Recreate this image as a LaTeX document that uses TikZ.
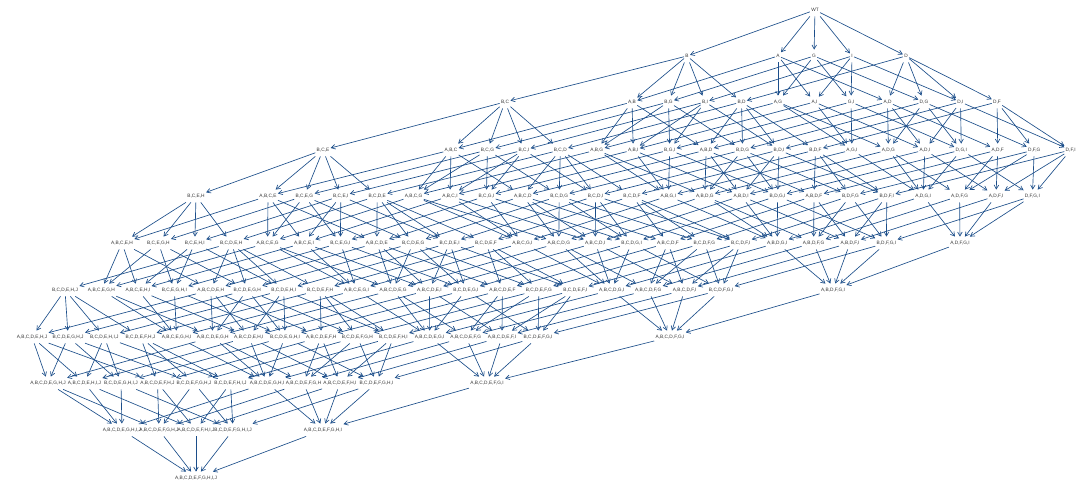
\documentclass[tikz,border=0pt]{standalone}
\usepackage{fontspec}
\setmainfont{Liberation Sans}
\usetikzlibrary{arrows.meta}
\definecolor{edgeblue}{RGB}{28,78,138}
\definecolor{txtgray}{RGB}{55,55,55}
\ExplSyntaxOn
\bool_new:N \l_my_sub_bool
\seq_new:N \l_my_lbl_seq
\cs_new_protected:Npn \my_commas:n #1
  {
    \seq_clear:N \l_my_lbl_seq
    \tl_map_inline:nn {#1} { \seq_put_right:Nn \l_my_lbl_seq {##1} }
    \seq_use:Nn \l_my_lbl_seq {,}
  }
\cs_generate_variant:Nn \my_commas:n {e}
\cs_new_protected:Npn \my_check:nn #1 #2
  {
    \bool_set_true:N \l_my_sub_bool
    \tl_map_inline:nn {#1}
      { \tl_if_in:nnF {#2} {##1} { \bool_set_false:N \l_my_sub_bool } }
  }
\cs_new_protected:Npn \my_pair:nn #1 #2
  {
    \my_check:nn {#1} {#2}
    \bool_if:NT \l_my_sub_bool { \MyEdge {#1} {#2} }
  }
\cs_new_protected:Npn \my_rows:nn #1 #2
  {
    \clist_map_inline:nn {#1}
      {
        \clist_map_inline:nn {#2} { \my_pair:nn {##1} {####1} }
      }
  }
\cs_generate_variant:Nn \my_rows:nn {oo}
\NewDocumentCommand \Lbl {m} { \my_commas:e {#1} }
\NewDocumentCommand \RowEdges {mm} { \my_rows:oo {#1} {#2} }
\ExplSyntaxOff
\def\RowI{B,A,G,I,D}
\def\RunII{AB,BG,BI,BD,AG,AI,GI,AD,DG,DI,DF}
\edef\RowII{BC,\RunII}
\def\RunIII{ABC,BCG,BCI,BCD,ABG,ABI,BGI,ABD,BDG,BDI,BDF,AGI,ADG,ADI,DGI,ADF,DFG,DFI}
\edef\RowIII{BCE,\RunIII}
\def\RunIV{ABCE,BCEG,BCEI,BCDE,ABCG,ABCI,BCGI,ABCD,BCDG,BCDI,BCDF,ABGI,ABDG,ABDI,BDGI,ABDF,BDFG,BDFI,ADGI,ADFG,ADFI,DFGI}
\edef\RowIV{BCEH,\RunIV}
\def\RunV{ABCEH,BCEGH,BCEHI,BCDEH,ABCEG,ABCEI,BCEGI,ABCDE,BCDEG,BCDEI,BCDEF,ABCGI,ABCDG,ABCDI,BCDGI,ABCDF,BCDFG,BCDFI,ABDGI,ABDFG,ABDFI,BDFGI}
\edef\RowV{\RunV,ADFGI}
\def\RunVI{BCDEHJ,ABCEGH,ABCEHI,BCEGHI,ABCDEH,BCDEGH,BCDEHI,BCDEFH,ABCEGI,ABCDEG,ABCDEI,BCDEGI,ABCDEF,BCDEFG,BCDEFI,ABCDGI,ABCDFG,ABCDFI,BCDFGI}
\edef\RowVI{\RunVI,ABDFGI}
\def\RunVII{ABCDEHJ,BCDEGHJ,BCDEHIJ,BCDEFHJ,ABCEGHI,ABCDEGH,ABCDEHI,BCDEGHI,ABCDEFH,BCDEFGH,BCDEFHI,ABCDEGI,ABCDEFG,ABCDEFI,BCDEFGI}
\edef\RowVII{\RunVII,ABCDFGI}
\def\RunVIII{ABCDEGHJ,ABCDEHIJ,BCDEGHIJ,ABCDEFHJ,BCDEFGHJ,BCDEFHIJ,ABCDEGHI,ABCDEFGH,ABCDEFHI,BCDEFGHI}
\edef\RowVIII{\RunVIII,ABCDEFGI}
\def\RunIX{ABCDEGHIJ,ABCDEFGHJ,ABCDEFHIJ,BCDEFGHIJ}
\edef\RowIX{\RunIX,ABCDEFGHI}
\def\RowX{ABCDEFGHIJ}
\newcommand\MyEdge[2]{\draw[conn] (#1) -- (#2);}
\newcommand\RowNodes[4]{%
  \foreach \n [count=\i from 0] in #4 {\node[lbl] (\n) at ({#1+#2*\i},#3) {\Lbl{\n}};}}
\newcommand\OneNode[3]{\node[lbl] (#1) at (#2,#3) {\Lbl{#1}};}
\begin{document}
\begin{tikzpicture}[x=1pt,y=-1pt,
  lbl/.style={font=\fontsize{4.8}{5.5}\selectfont, text=txtgray, inner xsep=1.2pt,
    inner ysep=4.2pt, text height=3.4pt, text depth=0.6pt},
  conn/.style={draw=edgeblue, line width=0.65pt, -{Straight Barb[length=4pt,width=4.6pt]}}]
\useasboundingbox (0,0) rectangle (1076,481);
% row 0
\node[lbl] (WT) at (815,10) {WT};
% row 1
\OneNode{B}{687}{56}
\OneNode{A}{778}{56}
\OneNode{G}{814}{56}
\OneNode{I}{852}{56}
\OneNode{D}{906}{56}
% row 2
\OneNode{BC}{505}{102}
\RowNodes{632}{36.5}{102}{\RunII}
% row 3
\OneNode{BCE}{323}{150}
\RowNodes{451}{36.45}{150}{\RunIII}
% row 4
\OneNode{BCEH}{196}{196}
\RowNodes{268}{36.4}{196}{\RunIV}
% row 5
\RowNodes{122}{36.4}{243}{\RunV}
\OneNode{ADFGI}{960}{243}
% row 6
\RowNodes{65}{36.45}{290}{\RunVI}
\OneNode{ABDFGI}{833}{290}
% row 7
\RowNodes{32}{36.15}{337}{\RunVII}
\OneNode{ABCDFGI}{670}{337}
% row 8
\RowNodes{48}{36.5}{383}{\RunVIII}
\OneNode{ABCDEFGI}{487}{383}
% row 9
\RowNodes{122}{37}{430}{\RunIX}
\OneNode{ABCDEFGHI}{323}{430}
% row 10
\OneNode{ABCDEFGHIJ}{196}{478}
% edges
\foreach \c in {B,A,G,I,D} {\MyEdge{WT}{\c}}
\RowEdges{\RowI}{\RowII}
\RowEdges{\RowII}{\RowIII}
\RowEdges{\RowIII}{\RowIV}
\RowEdges{\RowIV}{\RowV}
\RowEdges{\RowV}{\RowVI}
\RowEdges{\RowVI}{\RowVII}
\RowEdges{\RowVII}{\RowVIII}
\RowEdges{\RowVIII}{\RowIX}
\RowEdges{\RowIX}{\RowX}
\end{tikzpicture}
\end{document}
